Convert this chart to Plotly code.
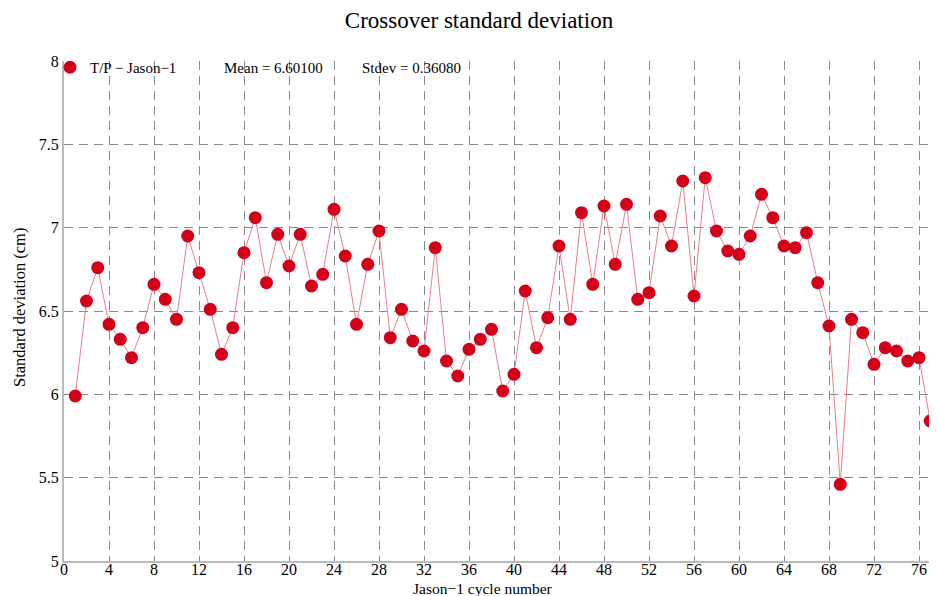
import plotly.graph_objects as go

cycles = list(range(1, 79))
stdev_cm = [5.99, 6.56, 6.76, 6.42, 6.33, 6.22, 6.40, 6.66, 6.57, 6.45,
            6.95, 6.73, 6.51, 6.24, 6.40, 6.85, 7.06, 6.67, 6.96, 6.77,
            6.96, 6.65, 6.72, 7.11, 6.83, 6.42, 6.78, 6.98, 6.34, 6.51,
            6.32, 6.26, 6.88, 6.20, 6.11, 6.27, 6.33, 6.39, 6.02, 6.12,
            6.62, 6.28, 6.46, 6.89, 6.45, 7.09, 6.66, 7.13, 6.78, 7.14,
            6.57, 6.61, 7.07, 6.89, 7.28, 6.59, 7.30, 6.98, 6.86, 6.84,
            6.95, 7.20, 7.06, 6.89, 6.88, 6.97, 6.67, 6.41, 5.46, 6.45,
            6.37, 6.18, 6.28, 6.26, 6.20, 6.22, 5.84, 6.31]
series_name = "T/P \u2212 Jason\u22121"
mean_text = "Mean = 6.60100"
stdev_text = "Stdev = 0.36080"
x_title = "Jason\u22121 cycle number"
y_title = "Standard deviation (cm)"
x_ticks = list(range(0, 80, 4))
y_ticks = [5, 5.5, 6, 6.5, 7, 7.5, 8]
y_ticktext = ["5", "5.5", "6", "6.5", "7", "7.5", "8"]

RED = "#d4001a"
FONT = "Liberation Serif, Times New Roman, serif"

# the page has an 8px body margin
OFF = 8
W, H = 921, 588
L, R, T, B = 56, 0, 53, 35
PW, PH = W - L - R, H - T - B
UNIT = 11.25  # px per cycle in the reference


def px_x(page_x):
    return (page_x - OFF - L) / PW


def px_y(page_y):
    return 1 - (page_y - OFF - T) / PH


fig = go.Figure()
fig.add_trace(go.Scatter(
    x=cycles, y=stdev_cm, mode="lines+markers", showlegend=False,
    line=dict(color="#e8808c", width=1),
    marker=dict(color=RED, size=13, line=dict(width=0)),
))
fig.add_trace(go.Scatter(
    x=[None], y=[None], mode="markers", name=series_name,
    marker=dict(color=RED, size=13),
))

fig.update_layout(
    width=W, height=H,
    margin=dict(l=L, r=R, t=T, b=B, autoexpand=False),
    paper_bgcolor="white", plot_bgcolor="white",
    font=dict(family=FONT, size=15, color="black"),
    title=dict(text="Crossover standard deviation", x=(479 - OFF) / W, xref="container",
               xanchor="center", y=1 - (20 - OFF) / H, yref="container", yanchor="middle",
               font=dict(family=FONT, size=23)),
    legend=dict(x=px_x(50), y=1 + 10 / PH, xanchor="left", yanchor="top",
                bgcolor="rgba(0,0,0,0)", borderwidth=0,
                font=dict(family=FONT, size=15),
                itemwidth=30, tracegroupgap=0),
)
fig.add_annotation(text=mean_text, x=px_x(222), y=px_y(68), xref="paper", yref="paper",
                   xanchor="left", yanchor="middle", showarrow=False,
                   font=dict(family=FONT, size=15))
fig.add_annotation(text=stdev_text, x=px_x(360), y=px_y(68), xref="paper", yref="paper",
                   xanchor="left", yanchor="middle", showarrow=False,
                   font=dict(family=FONT, size=15))
fig.add_annotation(text=x_title, x=px_x(483), y=px_y(588), xref="paper", yref="paper",
                   xanchor="center", yanchor="middle", showarrow=False,
                   font=dict(family=FONT, size=15.5))
fig.add_annotation(text=y_title, x=px_x(19), y=px_y(308), xref="paper", yref="paper",
                   xanchor="center", yanchor="middle", showarrow=False, textangle=-90,
                   font=dict(family=FONT, size=16.5))

fig.update_xaxes(
    range=[0, PW / UNIT], tickvals=x_ticks, ticktext=[str(v) for v in x_ticks],
    showgrid=True, gridcolor="#8a8a8a", gridwidth=1, griddash="9px,6px",
    showline=True, linecolor="#bbbbbb", linewidth=2,
    ticks="inside", ticklen=5, tickcolor="#888888",
    zeroline=False, automargin=False, ticklabelstandoff=-7,
    tickfont=dict(family=FONT, size=16),
)
fig.update_yaxes(
    range=[5, 8], tickvals=y_ticks, ticktext=y_ticktext,
    showgrid=True, gridcolor="#8a8a8a", gridwidth=1, griddash="9px,6px",
    showline=True, linecolor="#bbbbbb", linewidth=2,
    ticks="inside", ticklen=5, tickcolor="#888888",
    zeroline=False, automargin=False,
    tickfont=dict(family=FONT, size=16),
)

fig.write_html("out.html")
